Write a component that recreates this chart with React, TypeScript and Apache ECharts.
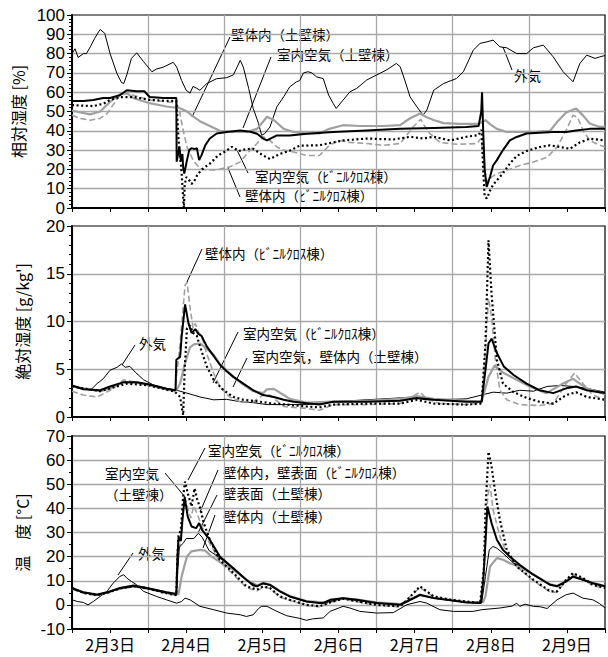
import React, { useEffect, useRef } from 'react';
import * as echarts from 'echarts';

// x values are days counted from 2月3日 0:00
const DAY_LABELS = ['2月3日', '2月4日', '2月5日', '2月6日', '2月7日', '2月8日', '2月9日'];

// ---------- 相対湿度 [%] ----------
const rhOutdoor = [[0,80],[0.04,82.5],[0.08,78],[0.15,80],[0.19,80],[0.24,83.5],[0.3,88],[0.35,91.3],[0.37,92.5],[0.43,90.5],[0.5,80],[0.59,69.7],[0.65,65],[0.68,64.5],[0.72,69],[0.78,77.5],[0.85,80.4],[0.94,75.8],[1.05,70.6],[1.11,72],[1.2,73],[1.33,75.5],[1.375,73],[1.44,66],[1.5,61],[1.55,59.5],[1.59,63],[1.64,62],[1.68,61],[1.77,64.5],[1.9,67],[2.03,67.5],[2.12,69],[2.21,76.5],[2.25,73],[2.32,62],[2.38,51.6],[2.45,43.8],[2.49,37.7],[2.53,38.5],[2.6,42],[2.69,52.4],[2.78,57.6],[2.86,62.8],[2.95,65.4],[2.99,66],[3.04,70],[3.1,70.6],[3.15,70],[3.21,68],[3.3,67],[3.37,58.5],[3.43,54.2],[3.47,51.6],[3.56,55.9],[3.65,60.2],[3.74,62],[3.87,66.3],[4.0,68.9],[4.13,71.5],[4.26,74.9],[4.31,73.2],[4.37,66.3],[4.44,57.6],[4.53,52.4],[4.61,48.1],[4.66,50.7],[4.75,61],[4.88,64.5],[5.05,67.1],[5.14,70.6],[5.18,74],[5.27,81.8],[5.36,85.3],[5.45,86.1],[5.53,87],[5.62,83.5],[5.71,83],[5.84,80],[5.97,80],[6.06,83],[6.19,84.4],[6.32,78.3],[6.45,70.6],[6.58,65.4],[6.67,74.9],[6.76,79.2],[6.87,77.5],[6.93,78.3],[7.0,79]];
const rhRoomEarth = [[0,55.5],[0.15,55.5],[0.28,56],[0.41,57],[0.5,57],[0.63,58.5],[0.72,61],[0.85,60.5],[0.95,60.5],[1.02,57.5],[1.2,57],[1.37,57],[1.375,24],[1.41,31.7],[1.43,24.4],[1.45,28],[1.46,21],[1.475,17.8],[1.51,24.8],[1.54,30],[1.57,31],[1.61,30.5],[1.64,31],[1.67,24.8],[1.7,27.3],[1.75,32.5],[1.81,36],[1.9,38.6],[2.03,39.4],[2.21,40.2],[2.34,39.5],[2.43,38.5],[2.51,36],[2.56,35],[2.69,37.6],[2.86,37.6],[3.08,38.5],[3.43,39.4],[3.87,40.2],[4.31,41],[4.75,41.5],[5.18,42],[5.34,42.5],[5.375,50],[5.385,60],[5.4,40],[5.42,20],[5.446,10.9],[5.49,16.2],[5.53,22],[5.58,24.8],[5.66,30],[5.75,35],[5.84,36.8],[5.97,38.6],[6.14,39],[6.32,39.4],[6.49,39.4],[6.62,40.2],[6.8,41],[7.0,41]];
const rhWallEarth = [[0,50.5],[0.11,49.5],[0.24,48.5],[0.37,50],[0.5,55],[0.63,58.9],[0.7,60],[0.81,56.9],[1.02,54.3],[1.24,52.6],[1.42,51.7],[1.51,50],[1.59,47.5],[1.68,45],[1.81,42.5],[1.94,40],[2.12,39.4],[2.29,39.4],[2.43,41],[2.49,43.8],[2.56,47.3],[2.65,45.6],[2.78,41],[2.91,39.4],[3.08,38.6],[3.25,38.6],[3.38,41],[3.56,42.9],[3.78,42.5],[4.09,42.5],[4.31,42.9],[4.44,46.5],[4.57,49],[4.66,47],[4.75,45.6],[4.88,44],[5.1,43.6],[5.34,43.6],[5.43,45.5],[5.49,43.5],[5.58,41],[5.71,39.4],[6.06,39.4],[6.28,40],[6.37,44.5],[6.49,49.5],[6.62,51.6],[6.71,48],[6.8,43.8],[6.93,42],[7.0,42]];
const rhRoomVinyl = [[0,53.3],[0.28,52.8],[0.41,54],[0.5,56],[0.63,57.5],[0.81,57.5],[1.02,56],[1.24,55.5],[1.37,55.5],[1.4,35],[1.44,18],[1.46,5],[1.47,0],[1.48,12],[1.5,16],[1.53,15],[1.57,12.5],[1.6,13.5],[1.65,17.5],[1.72,20.4],[1.81,23],[1.92,27.3],[2.0,29],[2.1,31.7],[2.19,29.5],[2.28,30.5],[2.38,30.7],[2.51,27.2],[2.6,25.4],[2.73,28],[2.86,29.7],[2.99,32.3],[3.25,32.5],[3.43,34],[3.56,35],[3.87,36],[4.22,35.5],[4.44,36.9],[4.61,36],[4.75,36.9],[4.97,35],[5.18,36.9],[5.34,37.8],[5.38,40.5],[5.4,20],[5.42,5.7],[5.45,5],[5.49,9],[5.53,12],[5.58,14.4],[5.66,18],[5.75,23],[5.84,27],[5.97,29.5],[6.14,31.6],[6.28,32.5],[6.41,31.6],[6.54,30.7],[6.67,34],[6.8,35.9],[7.0,35]];
const rhWallVinyl = [[0,48],[0.11,46.4],[0.24,45.5],[0.37,46.4],[0.46,48.9],[0.55,54],[0.63,58.4],[0.72,59.3],[0.81,58.4],[1.02,56],[1.24,55],[1.37,54.5],[1.41,50.7],[1.45,42],[1.51,31.7],[1.59,24.8],[1.68,20.4],[1.77,19.6],[1.9,19.8],[2.07,21.3],[2.21,23.9],[2.34,30],[2.43,33.4],[2.51,36.9],[2.6,35],[2.69,31.6],[2.78,30],[2.91,29],[3.08,27.2],[3.25,27.2],[3.38,32.5],[3.51,35],[3.65,34],[3.87,33.4],[4.09,32.5],[4.31,33.4],[4.48,42],[4.58,46],[4.62,43],[4.7,38.6],[4.83,34],[5.05,33],[5.32,33.4],[5.37,36],[5.4,28],[5.43,17.8],[5.45,13.5],[5.51,16],[5.58,17.8],[5.71,19.5],[5.88,22],[6.06,23.8],[6.24,26.3],[6.37,31.6],[6.49,40.3],[6.58,48],[6.64,47],[6.71,40.3],[6.8,35],[6.93,32.5],[7.0,31.6]];

// ---------- 絶対湿度 [g/kg'] ----------
const ahOutdoor = [[0,3.2],[0.15,3.0],[0.24,2.8],[0.33,3.5],[0.41,4.0],[0.5,4.9],[0.59,5.2],[0.65,5.55],[0.7,5.2],[0.76,5.3],[0.83,4.7],[0.94,3.9],[1.07,3.35],[1.24,3.0],[1.375,2.8],[1.51,2.5],[1.68,2.1],[1.86,1.8],[2.03,1.85],[2.21,1.6],[2.38,1.5],[2.56,1.3],[2.78,1.3],[3.08,1.3],[3.43,1.6],[3.87,1.8],[4.31,2.0],[4.48,2.0],[4.66,1.8],[4.97,1.85],[5.18,1.9],[5.38,2.3],[5.53,2.6],[5.71,2.5],[5.88,2.8],[6.06,2.7],[6.24,3.2],[6.41,3.3],[6.58,3.2],[6.76,3.0],[7.0,2.6]];
const ahRoomEarth = [[0,3.3],[0.15,2.9],[0.37,2.8],[0.5,3.2],[0.68,3.65],[0.85,3.65],[1.02,3.4],[1.24,2.95],[1.36,2.8],[1.37,6.0],[1.42,6.3],[1.44,8.4],[1.485,11.8],[1.53,9.8],[1.57,8.8],[1.62,9.2],[1.66,8.7],[1.7,8.5],[1.77,7.4],[1.86,6.4],[1.94,5.5],[2.03,4.8],[2.12,4.2],[2.25,3.5],[2.38,2.8],[2.51,2.3],[2.65,2.1],[2.78,1.8],[2.91,1.6],[3.08,1.45],[3.25,1.3],[3.43,1.6],[3.87,1.6],[4.31,1.7],[4.53,2.0],[4.75,1.8],[5.18,1.6],[5.38,1.6],[5.43,4.9],[5.47,7.7],[5.51,8.2],[5.58,6.7],[5.67,5.3],[5.8,4.4],[5.97,3.5],[6.14,2.8],[6.32,2.5],[6.49,3.0],[6.62,3.2],[6.76,2.8],[6.93,2.6],[7.0,2.5]];
const ahWallEarth = [[0,3.2],[0.37,2.7],[0.5,3.0],[0.68,3.65],[0.85,3.6],[1.02,3.3],[1.24,2.9],[1.37,2.8],[1.42,3.5],[1.48,5.5],[1.55,7.3],[1.6,7.6],[1.68,7.7],[1.75,7.3],[1.86,6.5],[1.94,5.6],[2.03,4.9],[2.12,4.2],[2.25,3.4],[2.38,2.7],[2.51,2.5],[2.56,2.9],[2.65,2.95],[2.78,2.3],[2.86,1.9],[3.08,1.5],[3.43,1.6],[3.87,1.7],[4.31,1.9],[4.53,2.2],[4.75,1.9],[5.18,1.7],[5.38,1.6],[5.47,4.2],[5.55,5.4],[5.67,4.6],[5.84,3.9],[6.01,3.2],[6.23,2.5],[6.45,3.5],[6.58,4.0],[6.76,3.0],[7.0,2.4]];
const ahRoomVinyl = [[0,3.2],[0.37,2.7],[0.72,3.5],[1.02,3.3],[1.35,2.65],[1.42,2.1],[1.45,0.6],[1.46,0.2],[1.48,5],[1.51,9.3],[1.55,9.6],[1.59,8.8],[1.64,8.5],[1.68,7.4],[1.77,5.3],[1.86,3.9],[1.99,2.8],[2.12,2.1],[2.25,1.8],[2.47,1.6],[2.65,1.4],[2.82,1.3],[3.08,1.1],[3.25,1.0],[3.43,1.3],[3.87,1.4],[4.31,1.4],[4.53,1.8],[4.75,1.4],[5.18,1.3],[5.38,1.4],[5.43,7.7],[5.47,18.5],[5.51,12.9],[5.58,6.0],[5.66,3.5],[5.8,2.6],[5.97,2.0],[6.14,1.6],[6.32,1.4],[6.49,2.3],[6.62,2.6],[6.76,2.1],[7.0,1.8]];
const ahWallVinyl = [[0,2.7],[0.15,2.3],[0.33,2.1],[0.5,2.8],[0.68,3.9],[0.81,3.7],[1.02,3.4],[1.35,2.65],[1.42,7.7],[1.485,13.8],[1.51,14.1],[1.55,11.5],[1.59,9.3],[1.62,9.8],[1.66,8.9],[1.7,8.5],[1.77,6.6],[1.86,4.6],[1.94,3.2],[2.07,2.1],[2.21,1.6],[2.38,1.6],[2.51,2.3],[2.6,2.3],[2.78,1.1],[3.08,0.9],[3.25,0.7],[3.43,1.3],[3.87,1.3],[4.31,1.4],[4.57,2.6],[4.66,1.9],[4.83,1.4],[5.18,1.3],[5.38,1.5],[5.43,7.0],[5.47,12.4],[5.51,10.5],[5.56,6.0],[5.62,2.8],[5.71,1.8],[5.88,1.3],[6.14,1.2],[6.32,1.4],[6.49,3.5],[6.6,4.6],[6.71,3.5],[6.84,2.3],[7.0,1.8]];

// ---------- 温度 [°C] ----------
const tOutdoor = [[0,2.1],[0.07,1.4],[0.15,1.0],[0.21,0],[0.28,1.4],[0.37,3.5],[0.46,5.6],[0.54,9],[0.63,11.8],[0.68,12.5],[0.72,11.1],[0.78,9.7],[0.85,8.3],[0.94,5.6],[1.11,3.5],[1.24,2.1],[1.375,0.7],[1.44,1.4],[1.485,2.8],[1.55,2.1],[1.68,-0.6],[1.86,-2.0],[2.03,-3.4],[2.21,-4.1],[2.29,-4.8],[2.38,-4.1],[2.45,-1.5],[2.49,-0.6],[2.56,-0.6],[2.69,-2.7],[2.82,-4.5],[2.99,-5.6],[3.08,-6.4],[3.16,-5.8],[3.3,-5.4],[3.39,-2.7],[3.56,-0.6],[3.65,-1.3],[3.78,-2.7],[4.0,-3.4],[4.22,-3.2],[4.4,0.1],[4.57,1.4],[4.66,0.7],[4.83,-2.0],[5.01,-2.7],[5.27,-2.7],[5.38,-2.0],[5.62,-1.3],[5.78,-0.5],[5.84,0.7],[5.88,-0.6],[5.95,0.3],[6.06,-0.6],[6.15,-0.8],[6.24,-1.5],[6.37,2.1],[6.49,4.2],[6.58,4.9],[6.71,2.8],[6.84,2.1],[6.93,0.5],[7.0,-1.3]];
const tRoomEarth = [[0,7],[0.15,5.2],[0.33,4.2],[0.46,5.2],[0.63,7],[0.81,8],[0.98,7],[1.24,5.2],[1.37,4.5],[1.385,20],[1.4,28],[1.43,26.5],[1.45,35],[1.48,44.6],[1.52,36.6],[1.57,32.5],[1.63,31.8],[1.67,33.9],[1.71,31],[1.81,27],[1.94,20.1],[2.12,15.2],[2.29,10.4],[2.38,8],[2.43,7.7],[2.51,9],[2.6,8.3],[2.73,5.6],[2.86,3.5],[3.08,1.4],[3.25,0.8],[3.3,0.8],[3.39,2.1],[3.56,2.8],[3.74,2.1],[4.0,0.8],[4.31,0.1],[4.4,1.4],[4.57,4.2],[4.75,2.8],[4.97,1.9],[5.18,1.0],[5.37,0.8],[5.4,10],[5.43,25.6],[5.455,40.8],[5.51,33.9],[5.58,27],[5.66,22.8],[5.75,20],[5.88,16.6],[6.06,12.5],[6.28,8.3],[6.37,7.7],[6.49,9.7],[6.58,11.8],[6.71,10.4],[6.84,9],[7.0,7.7]];
const tSurfEarth = [[0,6.6],[0.15,5.0],[0.33,4.2],[0.46,5.0],[0.63,6.8],[0.81,7.6],[0.98,6.8],[1.24,5.0],[1.37,4.4],[1.39,15],[1.41,24],[1.46,25.5],[1.5,27.5],[1.6,27.5],[1.66,29.7],[1.71,28],[1.8,22.5],[1.94,19.5],[2.12,14.8],[2.29,10.2],[2.43,7.8],[2.51,8.8],[2.6,8.1],[2.73,5.5],[2.86,3.4],[3.08,1.3],[3.3,0.7],[3.56,2.7],[4.0,0.7],[4.31,0.1],[4.57,4.0],[4.75,2.8],[5.18,1.0],[5.38,0.9],[5.43,11.8],[5.48,22.8],[5.53,24.2],[5.58,23.5],[5.66,21.4],[5.8,17.3],[5.88,16.3],[6.06,12.4],[6.28,8.3],[6.37,7.8],[6.49,9.6],[6.58,11.5],[6.71,10.3],[6.84,8.9],[7.0,7.6]];
const tWallEarth = [[0,6.8],[0.15,5.1],[0.33,4.4],[0.46,5.1],[0.63,6.9],[0.81,7.8],[0.98,7],[1.24,5.2],[1.4,4.4],[1.44,11.8],[1.51,20.1],[1.57,22.2],[1.68,22.8],[1.75,22.5],[1.83,20.1],[1.94,17.8],[2.12,14.5],[2.29,10.4],[2.43,8.1],[2.51,9],[2.6,8.4],[2.73,5.8],[2.86,3.7],[3.08,1.6],[3.3,1.0],[3.56,2.8],[3.74,2.2],[4.0,1.0],[4.31,0.3],[4.57,4.0],[4.75,2.9],[5.18,1.2],[5.4,1.2],[5.43,3.5],[5.49,15.9],[5.58,19.4],[5.66,18.7],[5.75,17.3],[5.84,16.2],[6.06,12.6],[6.28,8.5],[6.37,7.9],[6.49,9.7],[6.58,11.6],[6.71,10.5],[6.84,9.1],[7.0,7.8]];
const tRoomVinyl = [[0,7],[0.15,5],[0.33,4],[0.46,5],[0.63,6.8],[0.81,7.8],[1.0,6.8],[1.24,4.8],[1.37,4],[1.385,20],[1.4,29],[1.43,31],[1.46,45],[1.485,51.1],[1.52,46.3],[1.57,40.8],[1.61,48.3],[1.64,44.2],[1.69,39.4],[1.73,33.9],[1.81,27],[1.94,18.7],[2.12,13.2],[2.29,7.7],[2.43,6.3],[2.51,7.7],[2.6,7],[2.73,3.5],[2.86,2.1],[3.08,0],[3.25,-0.6],[3.39,1],[3.56,2.6],[3.74,1.5],[4.0,0],[4.31,-0.6],[4.4,2],[4.57,7.7],[4.75,3.5],[5.0,2],[5.36,0.8],[5.41,15],[5.43,39.4],[5.47,63.5],[5.51,57.3],[5.56,46.3],[5.62,35.2],[5.71,22.8],[5.84,15.9],[6.06,10.4],[6.28,5.6],[6.37,5.6],[6.49,10.4],[6.58,13.2],[6.71,11.1],[6.84,8.3],[7.0,7]];
const tWallVinyl = [[0,6.5],[0.15,4.8],[0.33,3.8],[0.63,6.5],[0.81,7.5],[1.0,6.5],[1.24,4.6],[1.37,4],[1.4,22],[1.43,27],[1.46,40],[1.48,45],[1.52,40],[1.56,36],[1.6,41],[1.64,38],[1.7,33],[1.8,26],[1.94,18],[2.12,12.5],[2.29,7.2],[2.43,5.8],[2.51,7.4],[2.6,6.8],[2.73,3.3],[2.86,1.8],[3.08,-0.2],[3.25,-0.8],[3.39,1],[3.56,2.4],[3.74,1.3],[4.0,-0.2],[4.31,-0.8],[4.4,2.2],[4.57,7.2],[4.75,3.3],[5.0,1.8],[5.36,0.6],[5.41,12],[5.43,30],[5.46,45],[5.49,50],[5.53,39.4],[5.62,28.3],[5.71,21.4],[5.84,15.9],[6.06,10],[6.28,5.3],[6.37,5.3],[6.49,10],[6.58,12.8],[6.71,10.8],[6.84,8],[7.0,6.8]];

const CJK = '"Noto Sans CJK JP", sans-serif';
const GRID_GREY = '#a8a8a8';

const S_OUT = { color: '#000', width: 1 };
const S_ROOM_EARTH = { color: '#000', width: 2 };
const S_WALL_EARTH = { color: '#a0a0a0', width: 2.2 };
const S_ROOM_VINYL = { color: '#000', width: 2.2, type: [2, 2.6] };
const S_WALL_VINYL = { color: '#a0a0a0', width: 1.6, type: [6, 3] };
const S_SURF_EARTH = { color: '#000', width: 1 };

function line(data: number[][], idx: number, style: any, z: number) {
  return {
    type: 'line', data, xAxisIndex: idx, yAxisIndex: idx, showSymbol: false, symbol: 'none',
    lineStyle: style, z, silent: true,
  };
}

function txt(text: string, x: number, y: number) {
  return {
    type: 'text', x, y, silent: true,
    style: { text, font: `13.5px ${CJK}`, fill: '#000', textVerticalAlign: 'middle', verticalAlign: 'middle' },
  };
}
function ld(x1: number, y1: number, x2: number, y2: number) {
  return { type: 'line', silent: true, shape: { x1, y1, x2, y2 }, style: { stroke: '#000', lineWidth: 1 } };
}

function xAxis(idx: number) {
  return {
    type: 'value', gridIndex: idx, min: 0, max: 7, interval: 0.5,
    axisLine: { show: true, onZero: false, lineStyle: { color: '#000', width: 2 } },
    axisTick: { show: true, length: 4, lineStyle: { color: '#000', width: 1 } },
    axisLabel: {
      show: idx === 2, margin: 7, fontSize: 16, color: '#000', fontFamily: CJK, hideOverlap: false,
      formatter: (v: number) => {
        const d = Math.floor(v);
        return Math.abs(v - d - 0.5) < 1e-6 ? DAY_LABELS[d] || '' : '';
      },
    },
    splitLine: { show: true, showMaxLine: false, lineStyle: { color: [GRID_GREY, 'rgba(0,0,0,0)'], width: 1.3 } },
  };
}

function yAxis(idx: number, min: number, max: number, interval: number, minor: number, name: string) {
  return {
    type: 'value', gridIndex: idx, min, max, interval,
    name, nameLocation: 'middle', nameGap: 42, nameRotate: 90,
    nameTextStyle: { fontSize: 16, fontFamily: CJK, color: '#000' },
    axisLine: { show: true, onZero: false, lineStyle: { color: '#000', width: 2 } },
    axisTick: { show: true, length: 5, lineStyle: { color: '#000', width: 1 } },
    minorTick: { show: true, splitNumber: minor, length: 3, lineStyle: { color: '#000', width: 1 } },
    axisLabel: { margin: 7, fontSize: 17, color: '#000', fontFamily: '"Liberation Sans", Arial, sans-serif' },
    splitLine: { show: true, showMaxLine: false, showMinLine: false, lineStyle: { color: GRID_GREY, width: 1.3 } },
  };
}

export default function App() {
  const ref = useRef<HTMLDivElement>(null);
  useEffect(() => {
    const chart = echarts.init(ref.current!, null, { renderer: 'svg' });
    const gridBase = { left: 72, right: 3, show: true, borderColor: '#000', borderWidth: 1.2, backgroundColor: 'transparent' };
    chart.setOption({
      animation: false,
      grid: [
        { ...gridBase, top: 15, height: 193 },
        { ...gridBase, top: 226, height: 191 },
        { ...gridBase, top: 436, height: 193 },
      ],
      xAxis: [xAxis(0), xAxis(1), xAxis(2)],
      yAxis: [
        yAxis(0, 0, 100, 10, 5, '相対湿度 [%]'),
        yAxis(1, 0, 20, 5, 5, "絶対湿度 [g/kg']"),
        yAxis(2, -10, 70, 10, 2, '温　度 [°C]'),
      ],
      series: [
        line(rhOutdoor, 0, S_OUT, 2),
        line(rhWallVinyl, 0, S_WALL_VINYL, 3),
        line(rhWallEarth, 0, S_WALL_EARTH, 4),
        line(rhRoomVinyl, 0, S_ROOM_VINYL, 5),
        line(rhRoomEarth, 0, S_ROOM_EARTH, 6),

        line(ahOutdoor, 1, S_OUT, 2),
        line(ahWallVinyl, 1, S_WALL_VINYL, 3),
        line(ahWallEarth, 1, S_WALL_EARTH, 4),
        line(ahRoomVinyl, 1, S_ROOM_VINYL, 5),
        line(ahRoomEarth, 1, S_ROOM_EARTH, 6),

        line(tOutdoor, 2, S_OUT, 2),
        line(tWallEarth, 2, S_WALL_EARTH, 3),
        line(tWallVinyl, 2, S_WALL_VINYL, 4),
        line(tSurfEarth, 2, S_SURF_EARTH, 5),
        line(tRoomVinyl, 2, S_ROOM_VINYL, 6),
        line(tRoomEarth, 2, S_ROOM_EARTH, 7),
      ],
      graphic: [
        // panel 1
        txt('壁体内（土壁棟）', 231, 34), ld(230, 37, 192, 117),
        txt('室内空気（土壁棟）', 277, 54), ld(271, 57, 243, 128),
        txt('外気', 514, 75), ld(512, 70, 503, 47),
        txt('室内空気（ﾋﾞﾆﾙｸﾛｽ棟）', 255, 176), ld(248, 173, 237, 150),
        txt('壁体内（ﾋﾞﾆﾙｸﾛｽ棟）', 245, 195), ld(240, 197, 228, 168),
        // panel 2
        txt('壁体内（ﾋﾞﾆﾙｸﾛｽ棟）', 205, 253), ld(202, 249, 187, 282),
        txt('外気', 139, 343), ld(135, 345, 122, 365),
        txt('室内空気（ﾋﾞﾆﾙｸﾛｽ棟）', 243, 333), ld(238, 332, 213, 383),
        txt('室内空気，壁体内（土壁棟）', 252, 356), ld(247, 358, 233, 387),
        // panel 3
        txt('室内空気（ﾋﾞﾆﾙｸﾛｽ棟）', 208, 450), ld(205, 448, 188, 480),
        txt('室内空気', 105, 473), txt('（土壁棟）', 105, 494), ld(165, 473, 185, 497),
        txt('壁体内，壁表面（ﾋﾞﾆﾙｸﾛｽ棟）', 223, 472), ld(218, 470, 200, 512),
        txt('壁表面（土壁棟）', 223, 493), ld(217, 495, 198, 533),
        txt('壁体内（土壁棟）', 223, 516), ld(215, 515, 203, 548),
        txt('外気', 138, 553), ld(133, 553, 118, 575),
      ],
    });
    return () => chart.dispose();
  }, []);
  return <div ref={ref} style={{ position: 'absolute', left: 0, top: 0, width: 608, height: 657 }} />;
}
